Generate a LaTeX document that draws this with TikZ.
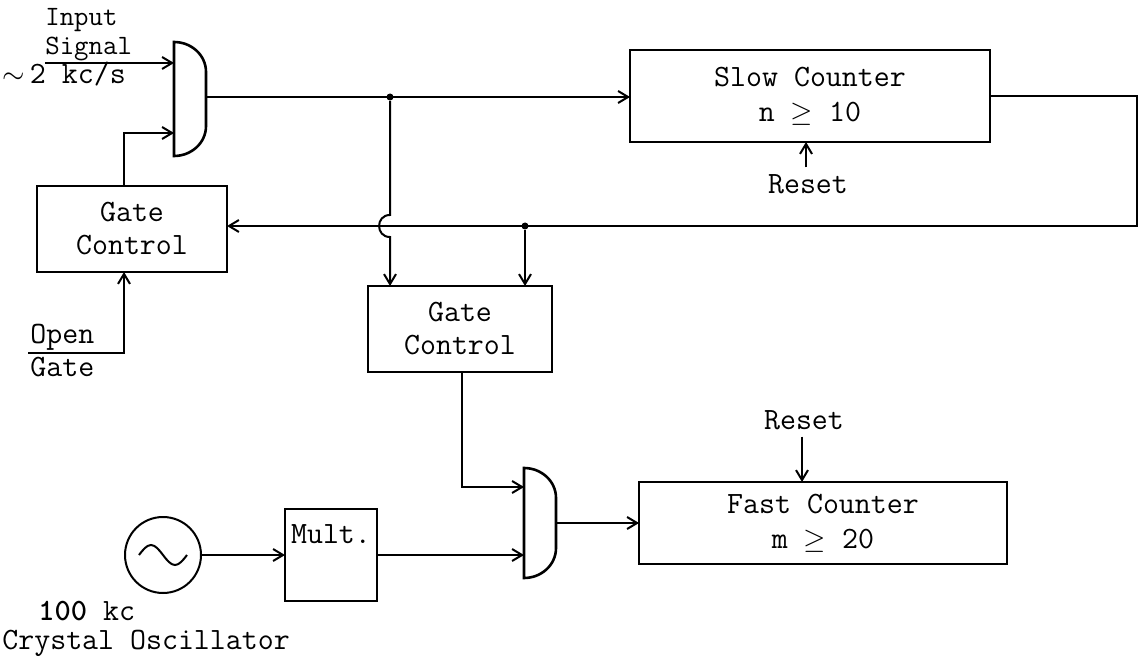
\documentclass[tikz,border=0pt]{standalone}
\usepackage{tikz}
\usetikzlibrary{arrows.meta, positioning}

\begin{document}
\begin{tikzpicture}[
  x=0.5pt, y=-0.5pt,
  wire/.style={line width=1pt},
  arr/.style={wire, -{Straight Barb[length=5pt, width=6pt, line width=1pt]}},
  box/.style={draw, line width=1.3pt, align=center, inner sep=0pt, outer sep=0pt},
  gatebox/.style={inner sep=0pt, outer sep=0pt, minimum width=16pt, minimum height=57pt},
  dot/.style={circle, fill, inner sep=0pt, minimum size=3.5pt},
  lbl/.style={inner sep=1pt, align=left},
  font=\ttfamily\fontsize{15.5}{16.5}\selectfont
]
\useasboundingbox (0,0) rectangle (1139,663);

% Top: input gate and slow counter
\node[gatebox] (g1) at (190,99) {};
\draw[box] (g1.north west) to[out=0, in=90] ([yshift=-15pt]g1.north east)
  -- ([yshift=15pt]g1.south east) to[out=-90, in=0] (g1.south west) -- cycle;
\node[box, minimum width=180pt, minimum height=46pt] (sc) at (810,96) {Slow Counter\\[1pt]n $\geq$ 10};

% Left: gate control
\node[box, minimum width=95pt, minimum height=43pt] (gc1) at (132,229) {Gate\\Control};

% Middle: second gate control
\node[box, minimum width=92pt, minimum height=43pt] (gc2) at (460,329) {Gate\\Control};

% Bottom: oscillator, multiplier, gate and fast counter
\node[draw, wire, circle, minimum size=38pt, inner sep=0pt] (osc) at (163,555) {};
\draw[wire] ([xshift=-12pt]osc.center) sin ++(6pt,5pt) cos ++(6pt,-5pt) sin ++(6pt,-5pt) cos ++(6pt,5pt);
\node[box, minimum width=46pt, minimum height=46pt] (mult) at (331,555) {Mult.\\\strut};
\node[gatebox, minimum height=55pt] (g2) at (540,523) {};
\draw[box] (g2.north west) to[out=0, in=90] ([yshift=-15pt]g2.north east)
  -- ([yshift=15pt]g2.south east) to[out=-90, in=0] (g2.south west) -- cycle;
\node[box, minimum width=184pt, minimum height=41pt] (fc) at (823,523) {Fast Counter\\[1pt]m $\geq$ 20};

% Labels
\coordinate (sigin) at (45,63);
\node[lbl, anchor=south west, inner sep=0pt, font=\ttfamily\fontsize{14}{14.5}\selectfont] (sig) at ([yshift=1pt]sigin) {Input\\Signal};
\node[lbl, anchor=north west] (rate) at (0,60) {$\sim$\,2 kc/s};
\coordinate (opin) at (28,353);
\node[lbl, anchor=south west] (opn) at (opin) {Open};
\node[lbl, anchor=north west] (gat) at ([yshift=-1pt]opin) {Gate};
\node (rst1) at (808,184) {Reset};
\node (rst2) at (804,420) {Reset};
\node[lbl, anchor=west] (khz) at (36,611) {\textbf{100} kc};
\node[lbl, anchor=west] (xtal) at (0,643) {Crystal Oscillator};

% Junctions
\node[dot] (j1) at (390,97) {};
\coordinate (fbr) at (1137,226);
\node[dot] (j2) at (525,226) {};
\coordinate (hopt) at (390,215);
\coordinate (hopb) at (390,237);

% Connectors
\draw[arr] (sigin) -- (sigin -| g1.west);
\draw[arr] ([xshift=-4pt]gc1.north) |- ([yshift=-17pt]g1.west);
\draw[arr] (j1 -| g1.east) -- (j1 -| sc.west);
\draw[arr] ([xshift=-1pt]rst1.north) -- ([xshift=-1pt]rst1.north |- sc.south);
\draw[arr] (sc.east) -| (fbr) -- (fbr -| gc1.east);
\draw[arr] (opin) -| ([xshift=-4pt]gc1.south);
\draw[arr] (j1) -- (hopt) to[out=180, in=180, looseness=1.7] (hopb) -- (hopb |- gc2.north);
\draw[arr] (j2) -- (j2 |- gc2.north);
\draw[arr] ([xshift=1pt]gc2.south) |- ([yshift=18pt]g2.west);
\draw[arr] (osc.east) -- (mult.west);
\draw[arr] (mult.east) -- (mult.east -| g2.west);
\draw[arr] (g2.east) -- (fc.west);
\draw[arr] ([xshift=-1pt]rst2.south) -- ([xshift=-1pt]rst2.south |- fc.north);

\end{tikzpicture}
\end{document}
